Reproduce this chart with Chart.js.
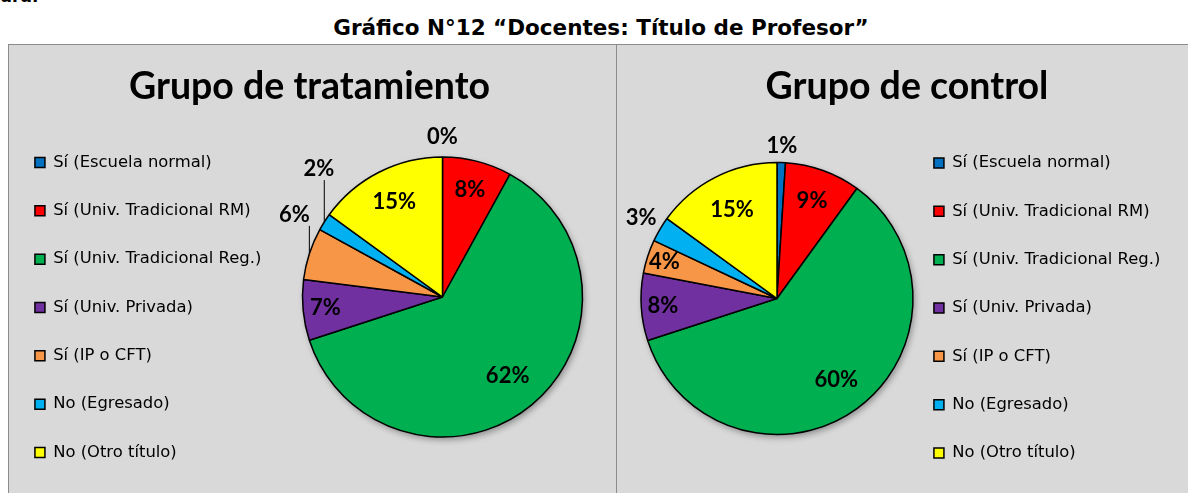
<!DOCTYPE html>
<html>
<head>
<meta charset="utf-8">
<script src="https://cdn.jsdelivr.net/npm/chart.js@4.4.1/dist/chart.umd.min.js"></script>
<style>
  html, body { margin: 0; padding: 0; background: #fff; overflow: hidden; width: 1188px; height: 493px; }
  #cut { position: absolute; left: 0; top: -14px; font: bold 17px "DejaVu Sans"; color: #000; }
  #mainTitle { position: absolute; left: 0; width: 1202px; top: 15px; text-align: center; font: bold 21.5px "DejaVu Sans"; color: #000; white-space: nowrap; }
  #frame { position: absolute; left: 8px; top: 44px; width: 1200px; height: 500px; background: #d9d9d9; border: 1px solid #8c8c8c; }
  #divider { position: absolute; left: 616px; top: 44px; width: 1px; height: 500px; background: #8c8c8c; }
  .box { position: absolute; top: 0; height: 500px; }
</style>
</head>
<body>
<div id="cut">ura.</div>
<div id="mainTitle">Gráfico N°12 “Docentes: Título de Profesor”</div>
<div id="frame"></div>
<div id="divider"></div>
<div class="box" style="left:3px; width:613px;"><canvas id="chartTrat"></canvas></div>
<div class="box" style="left:600px; width:588px;"><canvas id="chartCtrl"></canvas></div>

<script>
const categories = [
  'Sí (Escuela normal)',
  'Sí (Univ. Tradicional RM)',
  'Sí (Univ. Tradicional Reg.)',
  'Sí (Univ. Privada)',
  'Sí (IP o CFT)',
  'No (Egresado)',
  'No (Otro título)'
];
const tratamiento = [0, 8, 62, 7, 6, 2, 15]; // % docentes, grupo de tratamiento
const control = [1, 9, 60, 8, 4, 3, 15];     // % docentes, grupo de control
const sliceColours = ['#0070C0', '#FF0000', '#00B050', '#7030A0', '#F79646', '#00B0F0', '#FFFF00'];

// where each % label sits: [angle from top in deg (null = middle of slice), distance as share of radius, leader line]
const tratLabelPlace = [[0, 1.14], [null, 0.79], [null, 0.73], [null, 0.84], [299, 1.21, true], [316, 1.27, true], [null, 0.76]];
const ctrlLabelPlace = [[null, 1.12], [null, 0.76], [null, 0.74], [null, 0.84], [null, 0.87], [null, 1.16], [null, 0.73]];

Chart.defaults.font.family = 'Lato';
Chart.defaults.color = '#000';

const pctLabels = {
  id: 'pctLabels',
  beforeDatasetsDraw(chart) {
    // soft shadow under the pie, like the Excel original
    const arc = chart.getDatasetMeta(0).data[0];
    const ctx = chart.ctx;
    ctx.save();
    ctx.shadowColor = 'rgba(0,0,0,0.35)';
    ctx.shadowBlur = 6;
    ctx.shadowOffsetX = 2;
    ctx.shadowOffsetY = 3;
    ctx.fillStyle = '#d9d9d9';
    ctx.beginPath();
    ctx.arc(arc.x, arc.y, arc.outerRadius, 0, Math.PI * 2);
    ctx.fill();
    ctx.restore();
  },
  afterDatasetsDraw(chart, args, opts) {
    const ctx = chart.ctx;
    const values = chart.data.datasets[0].data;
    ctx.save();
    ctx.font = 'bold 22px Lato';
    ctx.fillStyle = '#000';
    ctx.strokeStyle = '#000';
    ctx.lineWidth = 1;
    ctx.textAlign = 'center';
    ctx.textBaseline = 'middle';
    chart.getDatasetMeta(0).data.forEach(function(arc, i) {
      const place = opts.place[i];
      const p = arc.getProps(['x', 'y', 'startAngle', 'endAngle', 'outerRadius'], true);
      const mid = (p.startAngle + p.endAngle) / 2;
      const ang = place[0] === null ? mid : (place[0] - 90) * Math.PI / 180;
      const lx = p.x + Math.cos(ang) * p.outerRadius * place[1];
      const ly = p.y + Math.sin(ang) * p.outerRadius * place[1];
      if (place[2]) {
        // leader line from the label down to the rim of its slice
        const tx = p.x + Math.cos(mid) * p.outerRadius;
        const ty = p.y + Math.sin(mid) * p.outerRadius;
        const sx = Math.min(Math.max(tx, lx - 17), lx + 17);
        ctx.beginPath();
        ctx.moveTo(sx, ly + 11);
        ctx.lineTo(tx, ty);
        ctx.stroke();
      }
      ctx.fillText(values[i] + '%', lx, ly);
    });
    ctx.restore();
  }
};

function makePie(canvasId, title, values, place, legendPos, legendWidth, legendGap, padLeft, padRight, padBottom, radius)
{
  return new Chart(document.getElementById(canvasId), {
    type: 'pie',
    data: {
      labels: categories,
      datasets: [{
        data: values,
        backgroundColor: sliceColours,
        borderColor: '#000',
        borderWidth: 1.5,
        radius: radius,
        clip: false
      }]
    },
    options: {
      responsive: true,
      maintainAspectRatio: false,
      animation: false,
      events: [],
      layout: { padding: { top: 0, left: padLeft, right: padRight, bottom: padBottom } },
      plugins: {
        title: {
          display: true,
          text: title,
          color: '#000',
          font: { size: 37.5, weight: 'bold', lineHeight: 1 },
          padding: { top: 68, bottom: -6.5 }
        },
        legend: {
          position: legendPos,
          fullSize: false,
          maxWidth: legendWidth,
          title: { display: true, text: '', font: { size: 10, lineHeight: 1 }, padding: { top: 0, bottom: legendGap } },
          labels: { boxWidth: 10, boxHeight: 10, padding: 31.93, color: '#000', font: { family: 'DejaVu Sans', size: 16.4 } }
        },
        tooltip: { enabled: false },
        pctLabels: { place: place }
      }
    },
    plugins: [pctLabels]
  });
}

makePie('chartTrat', 'Grupo de tratamiento', tratamiento, tratLabelPlace, 'left', 266, 11, 0, 0, 5, 140);
makePie('chartCtrl', 'Grupo de control', control, ctrlLabelPlace, 'right', 260, 9, 52, 26, 2, 136);
</script>
</body>
</html>
